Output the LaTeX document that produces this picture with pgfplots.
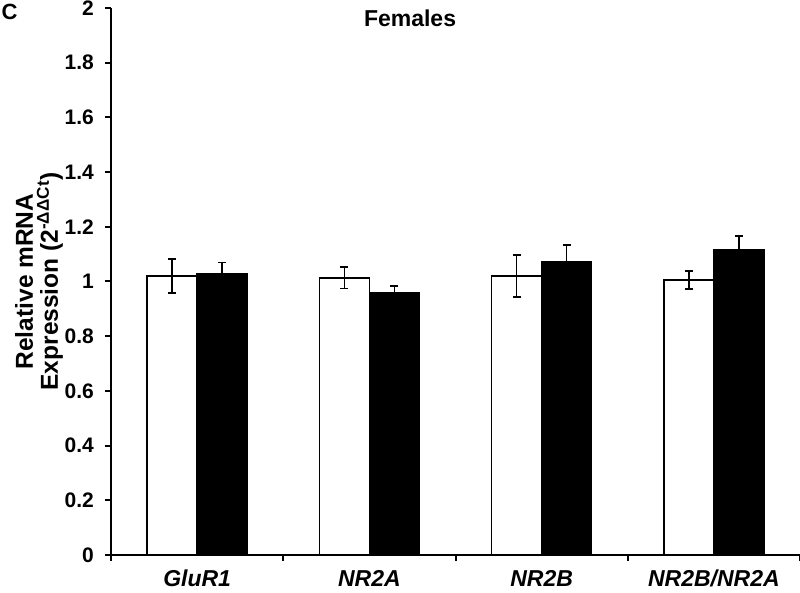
\documentclass[border=0pt]{standalone}
\usepackage{pgfplots}
\pgfplotsset{compat=1.18}
\usepackage{pgfplotstable}
\usepackage{fontspec}
\setmainfont{Liberation Sans}

\pgfplotstableread{
x ctrl ctrlerr trt trterr
0 1.020 0.063 1.027 0.042
1 1.013 0.039 0.959 0.024
2 1.020 0.076 1.072 0.061
3 1.005 0.033 1.118 0.048
}\data

\begin{document}
\begin{tikzpicture}
\begin{axis}[
  scale only axis, width=689pt, height=547pt,
  at={(0,0)}, anchor=south west,
  xmin=-0.5, xmax=3.5, ymin=0, ymax=2,
  ybar=0pt, bar width=50pt,
  axis x line*=bottom, axis y line*=left,
  axis line style={line width=2pt, black},
  tick align=outside, major tick length=6pt,
  tick style={line width=2pt, black},
  ytick={0,0.2,0.4,0.6,0.8,1,1.2,1.4,1.6,1.8,2},
  yticklabels={0,0.2,0.4,0.6,0.8,1,1.2,1.4,1.6,1.8,2},
  yticklabel style={font=\bfseries\fontsize{21}{24}\selectfont, inner sep=0pt, xshift=-11pt},
  xtick={-0.5,0.5,1.5,2.5,3.5},
  x tick label as interval,
  xticklabels={GluR1,NR2A,NR2B,NR2B/NR2A},
  xticklabel style={font=\bfseries\itshape\fontsize{23}{26}\selectfont, inner sep=0pt, anchor=north, yshift=-9pt},
  every axis y label/.style={at={(axis description cs:0,0.5)}, xshift=-48pt, rotate=90, anchor=south, align=center, inner sep=0pt, outer sep=0pt, font=\bfseries\fontsize{24.5}{25}\selectfont},
  ylabel={Relative mRNA\\Expression (2\textsuperscript{-ΔΔCt})},
  clip=false,
]
\addplot[fill=white, draw=black, line width=1.3pt,
  error bars/.cd, y dir=both, y explicit,
  error bar style={line width=1.6pt, black},
  error mark options={rotate=90, mark size=4pt, line width=1.6pt, black}]
  table[x=x, y=ctrl, y error=ctrlerr]{\data};
\addplot[fill=black, draw=black, line width=1.3pt,
  error bars/.cd, y dir=both, y explicit,
  error bar style={line width=1.6pt, black},
  error mark options={rotate=90, mark size=4pt, line width=1.6pt, black}]
  table[x=x, y=trt, y error=trterr]{\data};
\node[font=\bfseries\fontsize{23}{26}\selectfont, yshift=-10pt] at (rel axis cs:0.434,1) {Females};
\node[font=\bfseries\fontsize{22}{26}\selectfont, xshift=-101.5pt, yshift=-4pt] at (rel axis cs:0,1) {C};
\end{axis}
\pgfresetboundingbox
\path (-111pt,-38pt) rectangle (689pt,555pt);
\end{tikzpicture}
\end{document}
